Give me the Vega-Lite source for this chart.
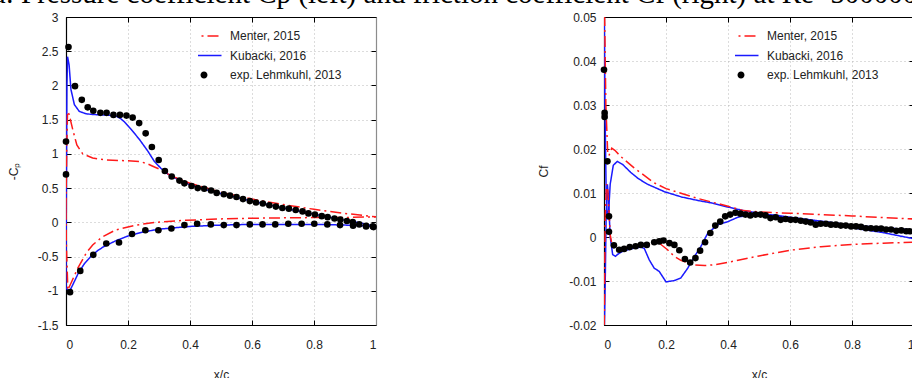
{
  "$schema": "https://vega.github.io/schema/vega-lite/v6.json",
  "padding": {"left": -8, "top": -21, "right": 0, "bottom": 0},
  "title": {
    "text": "a: Pressure coefficient Cp (left) and friction coefficient Cf (right) at Re=500000",
    "anchor": "start",
    "frame": "bounds",
    "font": "Liberation Serif",
    "fontSize": 29,
    "fontWeight": "normal",
    "color": "#000",
    "baseline": "alphabetic",
    "offset": -21,
    "dx": -14
  },
  "datasets": {
    "cp": [
      {"s": "Kubacki, 2016", "b": "u", "x": 0, "y": -0.95},
      {"s": "Kubacki, 2016", "b": "u", "x": 0.001, "y": 0.2},
      {"s": "Kubacki, 2016", "b": "u", "x": 0.002, "y": 1.2},
      {"s": "Kubacki, 2016", "b": "u", "x": 0.003, "y": 2.0},
      {"s": "Kubacki, 2016", "b": "u", "x": 0.005, "y": 2.42},
      {"s": "Kubacki, 2016", "b": "u", "x": 0.01, "y": 2.3},
      {"s": "Kubacki, 2016", "b": "u", "x": 0.016, "y": 1.94},
      {"s": "Kubacki, 2016", "b": "u", "x": 0.027, "y": 1.72},
      {"s": "Kubacki, 2016", "b": "u", "x": 0.043, "y": 1.62},
      {"s": "Kubacki, 2016", "b": "u", "x": 0.065, "y": 1.585},
      {"s": "Kubacki, 2016", "b": "u", "x": 0.09, "y": 1.575},
      {"s": "Kubacki, 2016", "b": "u", "x": 0.118, "y": 1.57},
      {"s": "Kubacki, 2016", "b": "u", "x": 0.14, "y": 1.565},
      {"s": "Kubacki, 2016", "b": "u", "x": 0.161, "y": 1.555},
      {"s": "Kubacki, 2016", "b": "u", "x": 0.175, "y": 1.52},
      {"s": "Kubacki, 2016", "b": "u", "x": 0.188, "y": 1.47},
      {"s": "Kubacki, 2016", "b": "u", "x": 0.21, "y": 1.36},
      {"s": "Kubacki, 2016", "b": "u", "x": 0.237, "y": 1.21},
      {"s": "Kubacki, 2016", "b": "u", "x": 0.264, "y": 1.04},
      {"s": "Kubacki, 2016", "b": "u", "x": 0.285, "y": 0.89},
      {"s": "Kubacki, 2016", "b": "u", "x": 0.306, "y": 0.79},
      {"s": "Kubacki, 2016", "b": "u", "x": 0.33, "y": 0.7},
      {"s": "Kubacki, 2016", "b": "u", "x": 0.35, "y": 0.65},
      {"s": "Kubacki, 2016", "b": "u", "x": 0.4, "y": 0.55},
      {"s": "Kubacki, 2016", "b": "u", "x": 0.45, "y": 0.48},
      {"s": "Kubacki, 2016", "b": "u", "x": 0.5, "y": 0.42},
      {"s": "Kubacki, 2016", "b": "u", "x": 0.6, "y": 0.31},
      {"s": "Kubacki, 2016", "b": "u", "x": 0.7, "y": 0.21},
      {"s": "Kubacki, 2016", "b": "u", "x": 0.8, "y": 0.12},
      {"s": "Kubacki, 2016", "b": "u", "x": 0.9, "y": 0.03},
      {"s": "Kubacki, 2016", "b": "u", "x": 0.95, "y": -0.01},
      {"s": "Kubacki, 2016", "b": "u", "x": 1.0, "y": -0.06},
      {"s": "Kubacki, 2016", "b": "l", "x": 0, "y": -0.95},
      {"s": "Kubacki, 2016", "b": "l", "x": 0.01, "y": -1.02},
      {"s": "Kubacki, 2016", "b": "l", "x": 0.02, "y": -0.93},
      {"s": "Kubacki, 2016", "b": "l", "x": 0.04, "y": -0.74},
      {"s": "Kubacki, 2016", "b": "l", "x": 0.06, "y": -0.6},
      {"s": "Kubacki, 2016", "b": "l", "x": 0.08, "y": -0.5},
      {"s": "Kubacki, 2016", "b": "l", "x": 0.1, "y": -0.42},
      {"s": "Kubacki, 2016", "b": "l", "x": 0.12, "y": -0.36},
      {"s": "Kubacki, 2016", "b": "l", "x": 0.16, "y": -0.27},
      {"s": "Kubacki, 2016", "b": "l", "x": 0.2, "y": -0.2},
      {"s": "Kubacki, 2016", "b": "l", "x": 0.25, "y": -0.14},
      {"s": "Kubacki, 2016", "b": "l", "x": 0.3, "y": -0.1},
      {"s": "Kubacki, 2016", "b": "l", "x": 0.35, "y": -0.08},
      {"s": "Kubacki, 2016", "b": "l", "x": 0.4, "y": -0.06},
      {"s": "Kubacki, 2016", "b": "l", "x": 0.5, "y": -0.04},
      {"s": "Kubacki, 2016", "b": "l", "x": 0.6, "y": -0.03},
      {"s": "Kubacki, 2016", "b": "l", "x": 0.7, "y": -0.03},
      {"s": "Kubacki, 2016", "b": "l", "x": 0.8, "y": -0.03},
      {"s": "Kubacki, 2016", "b": "l", "x": 0.9, "y": -0.04},
      {"s": "Kubacki, 2016", "b": "l", "x": 1.0, "y": -0.06},
      {"s": "Menter, 2015", "b": "u", "x": 0, "y": 0.2},
      {"s": "Menter, 2015", "b": "u", "x": 0.002, "y": 1.0},
      {"s": "Menter, 2015", "b": "u", "x": 0.005, "y": 1.62},
      {"s": "Menter, 2015", "b": "u", "x": 0.01, "y": 1.58},
      {"s": "Menter, 2015", "b": "u", "x": 0.022, "y": 1.35},
      {"s": "Menter, 2015", "b": "u", "x": 0.035, "y": 1.13},
      {"s": "Menter, 2015", "b": "u", "x": 0.054, "y": 1.0},
      {"s": "Menter, 2015", "b": "u", "x": 0.086, "y": 0.94},
      {"s": "Menter, 2015", "b": "u", "x": 0.129, "y": 0.91},
      {"s": "Menter, 2015", "b": "u", "x": 0.194, "y": 0.9},
      {"s": "Menter, 2015", "b": "u", "x": 0.237, "y": 0.89},
      {"s": "Menter, 2015", "b": "u", "x": 0.26, "y": 0.86},
      {"s": "Menter, 2015", "b": "u", "x": 0.28, "y": 0.82},
      {"s": "Menter, 2015", "b": "u", "x": 0.3, "y": 0.78},
      {"s": "Menter, 2015", "b": "u", "x": 0.323, "y": 0.72},
      {"s": "Menter, 2015", "b": "u", "x": 0.35, "y": 0.66},
      {"s": "Menter, 2015", "b": "u", "x": 0.4, "y": 0.57},
      {"s": "Menter, 2015", "b": "u", "x": 0.5, "y": 0.44},
      {"s": "Menter, 2015", "b": "u", "x": 0.6, "y": 0.34},
      {"s": "Menter, 2015", "b": "u", "x": 0.7, "y": 0.26},
      {"s": "Menter, 2015", "b": "u", "x": 0.8, "y": 0.19},
      {"s": "Menter, 2015", "b": "u", "x": 0.9, "y": 0.13},
      {"s": "Menter, 2015", "b": "u", "x": 1.0, "y": 0.08},
      {"s": "Menter, 2015", "b": "l", "x": 0, "y": 0.2},
      {"s": "Menter, 2015", "b": "l", "x": 0.001, "y": -0.3},
      {"s": "Menter, 2015", "b": "l", "x": 0.006, "y": -0.99},
      {"s": "Menter, 2015", "b": "l", "x": 0.02, "y": -0.85},
      {"s": "Menter, 2015", "b": "l", "x": 0.038, "y": -0.67},
      {"s": "Menter, 2015", "b": "l", "x": 0.065, "y": -0.45},
      {"s": "Menter, 2015", "b": "l", "x": 0.086, "y": -0.33},
      {"s": "Menter, 2015", "b": "l", "x": 0.118, "y": -0.21},
      {"s": "Menter, 2015", "b": "l", "x": 0.161, "y": -0.11},
      {"s": "Menter, 2015", "b": "l", "x": 0.226, "y": -0.04},
      {"s": "Menter, 2015", "b": "l", "x": 0.29, "y": 0.0},
      {"s": "Menter, 2015", "b": "l", "x": 0.387, "y": 0.03},
      {"s": "Menter, 2015", "b": "l", "x": 0.5, "y": 0.05},
      {"s": "Menter, 2015", "b": "l", "x": 0.6, "y": 0.06},
      {"s": "Menter, 2015", "b": "l", "x": 0.7, "y": 0.065},
      {"s": "Menter, 2015", "b": "l", "x": 0.8, "y": 0.07},
      {"s": "Menter, 2015", "b": "l", "x": 0.9, "y": 0.07},
      {"s": "Menter, 2015", "b": "l", "x": 1.0, "y": 0.08},
      {"s": "exp. Lehmkuhl, 2013", "b": "u", "x": 0, "y": 1.18},
      {"s": "exp. Lehmkuhl, 2013", "b": "u", "x": 0, "y": 0.7},
      {"s": "exp. Lehmkuhl, 2013", "b": "u", "x": 0.008, "y": 2.56},
      {"s": "exp. Lehmkuhl, 2013", "b": "u", "x": 0.029, "y": 1.99},
      {"s": "exp. Lehmkuhl, 2013", "b": "u", "x": 0.051, "y": 1.79},
      {"s": "exp. Lehmkuhl, 2013", "b": "u", "x": 0.07, "y": 1.68},
      {"s": "exp. Lehmkuhl, 2013", "b": "u", "x": 0.088, "y": 1.63},
      {"s": "exp. Lehmkuhl, 2013", "b": "u", "x": 0.111, "y": 1.6},
      {"s": "exp. Lehmkuhl, 2013", "b": "u", "x": 0.131, "y": 1.6},
      {"s": "exp. Lehmkuhl, 2013", "b": "u", "x": 0.153, "y": 1.57},
      {"s": "exp. Lehmkuhl, 2013", "b": "u", "x": 0.174, "y": 1.57},
      {"s": "exp. Lehmkuhl, 2013", "b": "u", "x": 0.195, "y": 1.56},
      {"s": "exp. Lehmkuhl, 2013", "b": "u", "x": 0.215, "y": 1.53},
      {"s": "exp. Lehmkuhl, 2013", "b": "u", "x": 0.236, "y": 1.45},
      {"s": "exp. Lehmkuhl, 2013", "b": "u", "x": 0.257, "y": 1.3},
      {"s": "exp. Lehmkuhl, 2013", "b": "u", "x": 0.277, "y": 1.1},
      {"s": "exp. Lehmkuhl, 2013", "b": "u", "x": 0.299, "y": 0.91},
      {"s": "exp. Lehmkuhl, 2013", "b": "u", "x": 0.319, "y": 0.75},
      {"s": "exp. Lehmkuhl, 2013", "b": "u", "x": 0.341, "y": 0.67},
      {"s": "exp. Lehmkuhl, 2013", "b": "u", "x": 0.366, "y": 0.61},
      {"s": "exp. Lehmkuhl, 2013", "b": "u", "x": 0.382, "y": 0.57},
      {"s": "exp. Lehmkuhl, 2013", "b": "u", "x": 0.405, "y": 0.53},
      {"s": "exp. Lehmkuhl, 2013", "b": "u", "x": 0.425, "y": 0.5},
      {"s": "exp. Lehmkuhl, 2013", "b": "u", "x": 0.446, "y": 0.49},
      {"s": "exp. Lehmkuhl, 2013", "b": "u", "x": 0.468, "y": 0.465},
      {"s": "exp. Lehmkuhl, 2013", "b": "u", "x": 0.486, "y": 0.43},
      {"s": "exp. Lehmkuhl, 2013", "b": "u", "x": 0.509, "y": 0.41},
      {"s": "exp. Lehmkuhl, 2013", "b": "u", "x": 0.529, "y": 0.39},
      {"s": "exp. Lehmkuhl, 2013", "b": "u", "x": 0.55, "y": 0.37},
      {"s": "exp. Lehmkuhl, 2013", "b": "u", "x": 0.571, "y": 0.34},
      {"s": "exp. Lehmkuhl, 2013", "b": "u", "x": 0.593, "y": 0.31},
      {"s": "exp. Lehmkuhl, 2013", "b": "u", "x": 0.613, "y": 0.29},
      {"s": "exp. Lehmkuhl, 2013", "b": "u", "x": 0.635, "y": 0.275},
      {"s": "exp. Lehmkuhl, 2013", "b": "u", "x": 0.656, "y": 0.25},
      {"s": "exp. Lehmkuhl, 2013", "b": "u", "x": 0.677, "y": 0.23},
      {"s": "exp. Lehmkuhl, 2013", "b": "u", "x": 0.698, "y": 0.21},
      {"s": "exp. Lehmkuhl, 2013", "b": "u", "x": 0.719, "y": 0.2},
      {"s": "exp. Lehmkuhl, 2013", "b": "u", "x": 0.741, "y": 0.18},
      {"s": "exp. Lehmkuhl, 2013", "b": "u", "x": 0.763, "y": 0.16},
      {"s": "exp. Lehmkuhl, 2013", "b": "u", "x": 0.782, "y": 0.13},
      {"s": "exp. Lehmkuhl, 2013", "b": "u", "x": 0.803, "y": 0.115},
      {"s": "exp. Lehmkuhl, 2013", "b": "u", "x": 0.825, "y": 0.09},
      {"s": "exp. Lehmkuhl, 2013", "b": "u", "x": 0.844, "y": 0.076},
      {"s": "exp. Lehmkuhl, 2013", "b": "u", "x": 0.866, "y": 0.056},
      {"s": "exp. Lehmkuhl, 2013", "b": "u", "x": 0.885, "y": 0.04},
      {"s": "exp. Lehmkuhl, 2013", "b": "u", "x": 0.906, "y": 0.02},
      {"s": "exp. Lehmkuhl, 2013", "b": "u", "x": 0.925, "y": 0.003},
      {"s": "exp. Lehmkuhl, 2013", "b": "u", "x": 0.946, "y": -0.03},
      {"s": "exp. Lehmkuhl, 2013", "b": "u", "x": 0.968, "y": -0.05},
      {"s": "exp. Lehmkuhl, 2013", "b": "u", "x": 0.99, "y": -0.06},
      {"s": "exp. Lehmkuhl, 2013", "b": "l", "x": 0.013, "y": -1.02},
      {"s": "exp. Lehmkuhl, 2013", "b": "l", "x": 0.046, "y": -0.71},
      {"s": "exp. Lehmkuhl, 2013", "b": "l", "x": 0.088, "y": -0.475},
      {"s": "exp. Lehmkuhl, 2013", "b": "l", "x": 0.13, "y": -0.31},
      {"s": "exp. Lehmkuhl, 2013", "b": "l", "x": 0.171, "y": -0.295},
      {"s": "exp. Lehmkuhl, 2013", "b": "l", "x": 0.213, "y": -0.17},
      {"s": "exp. Lehmkuhl, 2013", "b": "l", "x": 0.256, "y": -0.115},
      {"s": "exp. Lehmkuhl, 2013", "b": "l", "x": 0.298, "y": -0.115},
      {"s": "exp. Lehmkuhl, 2013", "b": "l", "x": 0.34, "y": -0.09},
      {"s": "exp. Lehmkuhl, 2013", "b": "l", "x": 0.382, "y": -0.04},
      {"s": "exp. Lehmkuhl, 2013", "b": "l", "x": 0.423, "y": -0.02},
      {"s": "exp. Lehmkuhl, 2013", "b": "l", "x": 0.467, "y": -0.03},
      {"s": "exp. Lehmkuhl, 2013", "b": "l", "x": 0.509, "y": -0.04},
      {"s": "exp. Lehmkuhl, 2013", "b": "l", "x": 0.55, "y": -0.04},
      {"s": "exp. Lehmkuhl, 2013", "b": "l", "x": 0.593, "y": -0.03},
      {"s": "exp. Lehmkuhl, 2013", "b": "l", "x": 0.634, "y": -0.03},
      {"s": "exp. Lehmkuhl, 2013", "b": "l", "x": 0.675, "y": -0.03},
      {"s": "exp. Lehmkuhl, 2013", "b": "l", "x": 0.717, "y": -0.02},
      {"s": "exp. Lehmkuhl, 2013", "b": "l", "x": 0.76, "y": -0.02},
      {"s": "exp. Lehmkuhl, 2013", "b": "l", "x": 0.801, "y": -0.02},
      {"s": "exp. Lehmkuhl, 2013", "b": "l", "x": 0.843, "y": -0.03},
      {"s": "exp. Lehmkuhl, 2013", "b": "l", "x": 0.884, "y": -0.04},
      {"s": "exp. Lehmkuhl, 2013", "b": "l", "x": 0.926, "y": -0.05},
      {"s": "exp. Lehmkuhl, 2013", "b": "l", "x": 0.968, "y": -0.06},
      {"s": "exp. Lehmkuhl, 2013", "b": "l", "x": 0.992, "y": -0.07}
    ],
    "cf": [
      {"s": "Kubacki, 2016", "b": "u", "x": 0, "y": 0.06},
      {"s": "Kubacki, 2016", "b": "u", "x": 0.003, "y": 0.03},
      {"s": "Kubacki, 2016", "b": "u", "x": 0.007, "y": 0.01},
      {"s": "Kubacki, 2016", "b": "u", "x": 0.011, "y": 0.004},
      {"s": "Kubacki, 2016", "b": "u", "x": 0.015, "y": 0.006},
      {"s": "Kubacki, 2016", "b": "u", "x": 0.02, "y": 0.012},
      {"s": "Kubacki, 2016", "b": "u", "x": 0.03, "y": 0.0163},
      {"s": "Kubacki, 2016", "b": "u", "x": 0.043, "y": 0.0172},
      {"s": "Kubacki, 2016", "b": "u", "x": 0.06, "y": 0.0165},
      {"s": "Kubacki, 2016", "b": "u", "x": 0.086, "y": 0.0147},
      {"s": "Kubacki, 2016", "b": "u", "x": 0.11, "y": 0.0133},
      {"s": "Kubacki, 2016", "b": "u", "x": 0.14, "y": 0.012},
      {"s": "Kubacki, 2016", "b": "u", "x": 0.195, "y": 0.0103},
      {"s": "Kubacki, 2016", "b": "u", "x": 0.25, "y": 0.0091},
      {"s": "Kubacki, 2016", "b": "u", "x": 0.303, "y": 0.0083},
      {"s": "Kubacki, 2016", "b": "u", "x": 0.35, "y": 0.0077},
      {"s": "Kubacki, 2016", "b": "u", "x": 0.4, "y": 0.0068},
      {"s": "Kubacki, 2016", "b": "u", "x": 0.45, "y": 0.006},
      {"s": "Kubacki, 2016", "b": "u", "x": 0.5, "y": 0.0054},
      {"s": "Kubacki, 2016", "b": "u", "x": 0.6, "y": 0.0043},
      {"s": "Kubacki, 2016", "b": "u", "x": 0.7, "y": 0.0032},
      {"s": "Kubacki, 2016", "b": "u", "x": 0.8, "y": 0.0021},
      {"s": "Kubacki, 2016", "b": "u", "x": 0.9, "y": 0.001},
      {"s": "Kubacki, 2016", "b": "u", "x": 1.0, "y": -0.0004},
      {"s": "Kubacki, 2016", "b": "l", "x": 0, "y": -0.025},
      {"s": "Kubacki, 2016", "b": "l", "x": 0.004, "y": -0.01},
      {"s": "Kubacki, 2016", "b": "l", "x": 0.007, "y": 0.005},
      {"s": "Kubacki, 2016", "b": "l", "x": 0.011, "y": 0.012},
      {"s": "Kubacki, 2016", "b": "l", "x": 0.015, "y": 0.008},
      {"s": "Kubacki, 2016", "b": "l", "x": 0.02, "y": 0.0},
      {"s": "Kubacki, 2016", "b": "l", "x": 0.028, "y": -0.004},
      {"s": "Kubacki, 2016", "b": "l", "x": 0.037, "y": -0.0044},
      {"s": "Kubacki, 2016", "b": "l", "x": 0.043, "y": -0.004},
      {"s": "Kubacki, 2016", "b": "l", "x": 0.059, "y": -0.0033},
      {"s": "Kubacki, 2016", "b": "l", "x": 0.086, "y": -0.0027},
      {"s": "Kubacki, 2016", "b": "l", "x": 0.119, "y": -0.0023},
      {"s": "Kubacki, 2016", "b": "l", "x": 0.13, "y": -0.0026},
      {"s": "Kubacki, 2016", "b": "l", "x": 0.146, "y": -0.0052},
      {"s": "Kubacki, 2016", "b": "l", "x": 0.162, "y": -0.0071},
      {"s": "Kubacki, 2016", "b": "l", "x": 0.178, "y": -0.0078},
      {"s": "Kubacki, 2016", "b": "l", "x": 0.2, "y": -0.0102},
      {"s": "Kubacki, 2016", "b": "l", "x": 0.227, "y": -0.0099},
      {"s": "Kubacki, 2016", "b": "l", "x": 0.248, "y": -0.0093},
      {"s": "Kubacki, 2016", "b": "l", "x": 0.27, "y": -0.0071},
      {"s": "Kubacki, 2016", "b": "l", "x": 0.292, "y": -0.0044},
      {"s": "Kubacki, 2016", "b": "l", "x": 0.313, "y": -0.0021},
      {"s": "Kubacki, 2016", "b": "l", "x": 0.335, "y": 0.0009},
      {"s": "Kubacki, 2016", "b": "l", "x": 0.368, "y": 0.0028},
      {"s": "Kubacki, 2016", "b": "l", "x": 0.4, "y": 0.0035},
      {"s": "Kubacki, 2016", "b": "l", "x": 0.432, "y": 0.0045},
      {"s": "Kubacki, 2016", "b": "l", "x": 0.476, "y": 0.0051},
      {"s": "Kubacki, 2016", "b": "l", "x": 0.55, "y": 0.005},
      {"s": "Kubacki, 2016", "b": "l", "x": 0.6, "y": 0.0045},
      {"s": "Kubacki, 2016", "b": "l", "x": 0.7, "y": 0.0036},
      {"s": "Kubacki, 2016", "b": "l", "x": 0.8, "y": 0.0027},
      {"s": "Kubacki, 2016", "b": "l", "x": 0.9, "y": 0.0021},
      {"s": "Kubacki, 2016", "b": "l", "x": 1.0, "y": 0.0016},
      {"s": "Menter, 2015", "b": "u", "x": 0, "y": 0.06},
      {"s": "Menter, 2015", "b": "u", "x": 0.006, "y": 0.03},
      {"s": "Menter, 2015", "b": "u", "x": 0.012, "y": 0.019},
      {"s": "Menter, 2015", "b": "u", "x": 0.016, "y": 0.0185},
      {"s": "Menter, 2015", "b": "u", "x": 0.025, "y": 0.0202},
      {"s": "Menter, 2015", "b": "u", "x": 0.035, "y": 0.0197},
      {"s": "Menter, 2015", "b": "u", "x": 0.054, "y": 0.0183},
      {"s": "Menter, 2015", "b": "u", "x": 0.097, "y": 0.0157},
      {"s": "Menter, 2015", "b": "u", "x": 0.162, "y": 0.0123},
      {"s": "Menter, 2015", "b": "u", "x": 0.2, "y": 0.011},
      {"s": "Menter, 2015", "b": "u", "x": 0.3, "y": 0.0088},
      {"s": "Menter, 2015", "b": "u", "x": 0.4, "y": 0.007},
      {"s": "Menter, 2015", "b": "u", "x": 0.45, "y": 0.006},
      {"s": "Menter, 2015", "b": "u", "x": 0.5, "y": 0.0057},
      {"s": "Menter, 2015", "b": "u", "x": 0.6, "y": 0.0054},
      {"s": "Menter, 2015", "b": "u", "x": 0.7, "y": 0.0051},
      {"s": "Menter, 2015", "b": "u", "x": 0.8, "y": 0.0048},
      {"s": "Menter, 2015", "b": "u", "x": 0.9, "y": 0.0044},
      {"s": "Menter, 2015", "b": "u", "x": 1.0, "y": 0.0041},
      {"s": "Menter, 2015", "b": "l", "x": 0, "y": -0.025},
      {"s": "Menter, 2015", "b": "l", "x": 0.002, "y": -0.01},
      {"s": "Menter, 2015", "b": "l", "x": 0.004, "y": 0.005},
      {"s": "Menter, 2015", "b": "l", "x": 0.008, "y": 0.012},
      {"s": "Menter, 2015", "b": "l", "x": 0.012, "y": 0.011},
      {"s": "Menter, 2015", "b": "l", "x": 0.016, "y": 0.006},
      {"s": "Menter, 2015", "b": "l", "x": 0.02, "y": 0.0005},
      {"s": "Menter, 2015", "b": "l", "x": 0.026, "y": -0.0018},
      {"s": "Menter, 2015", "b": "l", "x": 0.04, "y": -0.0024},
      {"s": "Menter, 2015", "b": "l", "x": 0.06, "y": -0.0025},
      {"s": "Menter, 2015", "b": "l", "x": 0.1, "y": -0.0021},
      {"s": "Menter, 2015", "b": "l", "x": 0.15, "y": -0.0016},
      {"s": "Menter, 2015", "b": "l", "x": 0.18, "y": -0.0015},
      {"s": "Menter, 2015", "b": "l", "x": 0.205, "y": -0.0029},
      {"s": "Menter, 2015", "b": "l", "x": 0.227, "y": -0.0044},
      {"s": "Menter, 2015", "b": "l", "x": 0.248, "y": -0.0053},
      {"s": "Menter, 2015", "b": "l", "x": 0.286, "y": -0.0063},
      {"s": "Menter, 2015", "b": "l", "x": 0.324, "y": -0.0065},
      {"s": "Menter, 2015", "b": "l", "x": 0.357, "y": -0.0063},
      {"s": "Menter, 2015", "b": "l", "x": 0.41, "y": -0.0056},
      {"s": "Menter, 2015", "b": "l", "x": 0.465, "y": -0.0048},
      {"s": "Menter, 2015", "b": "l", "x": 0.5, "y": -0.0043},
      {"s": "Menter, 2015", "b": "l", "x": 0.6, "y": -0.003},
      {"s": "Menter, 2015", "b": "l", "x": 0.7, "y": -0.0022},
      {"s": "Menter, 2015", "b": "l", "x": 0.8, "y": -0.0017},
      {"s": "Menter, 2015", "b": "l", "x": 0.9, "y": -0.0014},
      {"s": "Menter, 2015", "b": "l", "x": 1.0, "y": -0.0012},
      {"s": "exp. Lehmkuhl, 2013", "b": "e", "x": 0, "y": 0.038},
      {"s": "exp. Lehmkuhl, 2013", "b": "e", "x": 0.002, "y": 0.0282},
      {"s": "exp. Lehmkuhl, 2013", "b": "e", "x": 0.002, "y": 0.0273},
      {"s": "exp. Lehmkuhl, 2013", "b": "e", "x": 0.011, "y": 0.0172},
      {"s": "exp. Lehmkuhl, 2013", "b": "e", "x": 0.016, "y": 0.0047},
      {"s": "exp. Lehmkuhl, 2013", "b": "e", "x": 0.016, "y": 0.0012},
      {"s": "exp. Lehmkuhl, 2013", "b": "e", "x": 0.032, "y": -0.0019},
      {"s": "exp. Lehmkuhl, 2013", "b": "e", "x": 0.049, "y": -0.0029},
      {"s": "exp. Lehmkuhl, 2013", "b": "e", "x": 0.065, "y": -0.0027},
      {"s": "exp. Lehmkuhl, 2013", "b": "e", "x": 0.083, "y": -0.0023},
      {"s": "exp. Lehmkuhl, 2013", "b": "e", "x": 0.102, "y": -0.0021},
      {"s": "exp. Lehmkuhl, 2013", "b": "e", "x": 0.119, "y": -0.0018},
      {"s": "exp. Lehmkuhl, 2013", "b": "e", "x": 0.138, "y": -0.0018},
      {"s": "exp. Lehmkuhl, 2013", "b": "e", "x": 0.162, "y": -0.0012},
      {"s": "exp. Lehmkuhl, 2013", "b": "e", "x": 0.178, "y": -0.001},
      {"s": "exp. Lehmkuhl, 2013", "b": "e", "x": 0.192, "y": -0.0008},
      {"s": "exp. Lehmkuhl, 2013", "b": "e", "x": 0.211, "y": -0.0014},
      {"s": "exp. Lehmkuhl, 2013", "b": "e", "x": 0.227, "y": -0.0018},
      {"s": "exp. Lehmkuhl, 2013", "b": "e", "x": 0.243, "y": -0.003},
      {"s": "exp. Lehmkuhl, 2013", "b": "e", "x": 0.261, "y": -0.005},
      {"s": "exp. Lehmkuhl, 2013", "b": "e", "x": 0.278, "y": -0.0058},
      {"s": "exp. Lehmkuhl, 2013", "b": "e", "x": 0.295, "y": -0.0048},
      {"s": "exp. Lehmkuhl, 2013", "b": "e", "x": 0.31, "y": -0.0031},
      {"s": "exp. Lehmkuhl, 2013", "b": "e", "x": 0.326, "y": -0.0012},
      {"s": "exp. Lehmkuhl, 2013", "b": "e", "x": 0.343, "y": 0.0009},
      {"s": "exp. Lehmkuhl, 2013", "b": "e", "x": 0.359, "y": 0.0026},
      {"s": "exp. Lehmkuhl, 2013", "b": "e", "x": 0.375, "y": 0.0035},
      {"s": "exp. Lehmkuhl, 2013", "b": "e", "x": 0.391, "y": 0.0047},
      {"s": "exp. Lehmkuhl, 2013", "b": "e", "x": 0.407, "y": 0.0051},
      {"s": "exp. Lehmkuhl, 2013", "b": "e", "x": 0.424, "y": 0.0055},
      {"s": "exp. Lehmkuhl, 2013", "b": "e", "x": 0.44, "y": 0.0053},
      {"s": "exp. Lehmkuhl, 2013", "b": "e", "x": 0.456, "y": 0.0051},
      {"s": "exp. Lehmkuhl, 2013", "b": "e", "x": 0.472, "y": 0.0049},
      {"s": "exp. Lehmkuhl, 2013", "b": "e", "x": 0.489, "y": 0.0051},
      {"s": "exp. Lehmkuhl, 2013", "b": "e", "x": 0.505, "y": 0.0051},
      {"s": "exp. Lehmkuhl, 2013", "b": "e", "x": 0.521, "y": 0.0049},
      {"s": "exp. Lehmkuhl, 2013", "b": "e", "x": 0.537, "y": 0.0043},
      {"s": "exp. Lehmkuhl, 2013", "b": "e", "x": 0.554, "y": 0.0045},
      {"s": "exp. Lehmkuhl, 2013", "b": "e", "x": 0.57, "y": 0.0039},
      {"s": "exp. Lehmkuhl, 2013", "b": "e", "x": 0.586, "y": 0.0041},
      {"s": "exp. Lehmkuhl, 2013", "b": "e", "x": 0.602, "y": 0.0039},
      {"s": "exp. Lehmkuhl, 2013", "b": "e", "x": 0.618, "y": 0.0039},
      {"s": "exp. Lehmkuhl, 2013", "b": "e", "x": 0.635, "y": 0.0037},
      {"s": "exp. Lehmkuhl, 2013", "b": "e", "x": 0.651, "y": 0.0035},
      {"s": "exp. Lehmkuhl, 2013", "b": "e", "x": 0.667, "y": 0.0033},
      {"s": "exp. Lehmkuhl, 2013", "b": "e", "x": 0.683, "y": 0.0028},
      {"s": "exp. Lehmkuhl, 2013", "b": "e", "x": 0.699, "y": 0.003},
      {"s": "exp. Lehmkuhl, 2013", "b": "e", "x": 0.716, "y": 0.003},
      {"s": "exp. Lehmkuhl, 2013", "b": "e", "x": 0.732, "y": 0.0028},
      {"s": "exp. Lehmkuhl, 2013", "b": "e", "x": 0.748, "y": 0.0028},
      {"s": "exp. Lehmkuhl, 2013", "b": "e", "x": 0.764, "y": 0.0026},
      {"s": "exp. Lehmkuhl, 2013", "b": "e", "x": 0.78, "y": 0.0026},
      {"s": "exp. Lehmkuhl, 2013", "b": "e", "x": 0.797, "y": 0.0024},
      {"s": "exp. Lehmkuhl, 2013", "b": "e", "x": 0.813, "y": 0.0024},
      {"s": "exp. Lehmkuhl, 2013", "b": "e", "x": 0.829, "y": 0.0023},
      {"s": "exp. Lehmkuhl, 2013", "b": "e", "x": 0.845, "y": 0.002},
      {"s": "exp. Lehmkuhl, 2013", "b": "e", "x": 0.861, "y": 0.002},
      {"s": "exp. Lehmkuhl, 2013", "b": "e", "x": 0.878, "y": 0.0019},
      {"s": "exp. Lehmkuhl, 2013", "b": "e", "x": 0.894, "y": 0.0019},
      {"s": "exp. Lehmkuhl, 2013", "b": "e", "x": 0.91, "y": 0.0017},
      {"s": "exp. Lehmkuhl, 2013", "b": "e", "x": 0.926, "y": 0.0017},
      {"s": "exp. Lehmkuhl, 2013", "b": "e", "x": 0.943, "y": 0.0014},
      {"s": "exp. Lehmkuhl, 2013", "b": "e", "x": 0.959, "y": 0.0015},
      {"s": "exp. Lehmkuhl, 2013", "b": "e", "x": 0.975, "y": 0.0013},
      {"s": "exp. Lehmkuhl, 2013", "b": "e", "x": 0.986, "y": 0.0013}
    ]
  },
  "spacing": 228,
  "bounds": "flush",
  "resolve": {"legend": {"color": "independent"}},
  "hconcat": [
    {
      "width": 310,
      "height": 308,
      "data": {"name": "cp"},
      "resolve": {"axis": {"x": "independent", "y": "independent"}},
      "layer": [
        {
          "transform": [{"filter": "datum.s !== 'exp. Lehmkuhl, 2013'"}],
          "mark": {"type": "line", "clip": true, "strokeWidth": 1.5},
          "encoding": {
            "x": {"field": "x", "type": "quantitative", "scale": {"domain": [0, 1]},
                  "axis": {"values": [0, 0.2, 0.4, 0.6, 0.8, 1], "title": "x/c", "labelPadding": 19, "titlePadding": 19}},
            "y": {"field": "y", "type": "quantitative", "scale": {"domain": [-1.5, 3]},
                  "axis": {"values": [-1.5, -1, -0.5, 0, 0.5, 1, 1.5, 2, 2.5, 3], "title": "-Cₚ", "labelPadding": 13, "titlePadding": 17}},
            "color": {"field": "s", "type": "nominal",
                      "scale": {"domain": ["Menter, 2015", "Kubacki, 2016", "exp. Lehmkuhl, 2013"], "range": ["#ff1a1a", "#1a1aff", "#000000"]},
                      "legend": {
                        "orient": "none", "legendX": 132, "legendY": 12,
                        "symbolSize": 1225, "symbolType": "stroke", "labelOffset": 20,
                        "encode": {
                          "symbols": {
                            "update": {
                              "shape": {"signal": "datum.value === 'exp. Lehmkuhl, 2013' ? 'M-0.2,0A0.2,0.2,0,1,0,0.2,0A0.2,0.2,0,1,0,-0.2,0Z' : 'stroke'"},
                              "fill": {"signal": "datum.value === 'exp. Lehmkuhl, 2013' ? '#000' : 'transparent'"},
                              "strokeWidth": {"signal": "datum.value === 'exp. Lehmkuhl, 2013' ? 0 : 1.6"},
                              "strokeDash": {"signal": "datum.value === 'Menter, 2015' ? [11, 4, 2, 4] : [1, 0]"}
                            }
                          }
                        }
                      }},
            "strokeDash": {"field": "s", "type": "nominal",
                           "scale": {"domain": ["Menter, 2015", "Kubacki, 2016"], "range": [[11, 4, 2, 4], [1, 0]]},
                           "legend": null},
            "detail": {"field": "b"}
          }
        },
        {
          "transform": [{"filter": "datum.s === 'exp. Lehmkuhl, 2013'"}],
          "mark": {"type": "circle", "size": 44, "opacity": 1, "color": "#000"},
          "encoding": {
            "x": {"field": "x", "type": "quantitative",
                  "axis": {"orient": "top", "values": [0, 0.2, 0.4, 0.6, 0.8, 1], "labels": false, "title": null, "grid": false}},
            "y": {"field": "y", "type": "quantitative",
                  "axis": {"orient": "right", "values": [-1.5, -1, -0.5, 0, 0.5, 1, 1.5, 2, 2.5, 3], "labels": false, "title": null, "grid": false, "domainColor": "#8c8c8c"}}
          }
        }
      ]
    },
    {
      "width": 310,
      "height": 308,
      "data": {"name": "cf"},
      "resolve": {"axis": {"x": "independent", "y": "independent"}},
      "layer": [
        {
          "transform": [{"filter": "datum.s !== 'exp. Lehmkuhl, 2013'"}],
          "mark": {"type": "line", "clip": true, "strokeWidth": 1.5},
          "encoding": {
            "x": {"field": "x", "type": "quantitative", "scale": {"domain": [0, 1]},
                  "axis": {"values": [0, 0.2, 0.4, 0.6, 0.8, 1], "title": "x/c", "labelPadding": 19, "titlePadding": 19}},
            "y": {"field": "y", "type": "quantitative", "scale": {"domain": [-0.02, 0.05]},
                  "axis": {"values": [-0.02, -0.01, 0, 0.01, 0.02, 0.03, 0.04, 0.05], "title": "Cf", "labelPadding": 13, "titlePadding": 18}},
            "color": {"field": "s", "type": "nominal",
                      "scale": {"domain": ["Menter, 2015", "Kubacki, 2016", "exp. Lehmkuhl, 2013"], "range": ["#ff1a1a", "#1a1aff", "#000000"]},
                      "legend": {
                        "orient": "none", "legendX": 131, "legendY": 12,
                        "symbolSize": 1225, "symbolType": "stroke", "labelOffset": 20,
                        "encode": {
                          "symbols": {
                            "update": {
                              "shape": {"signal": "datum.value === 'exp. Lehmkuhl, 2013' ? 'M-0.2,0A0.2,0.2,0,1,0,0.2,0A0.2,0.2,0,1,0,-0.2,0Z' : 'stroke'"},
                              "fill": {"signal": "datum.value === 'exp. Lehmkuhl, 2013' ? '#000' : 'transparent'"},
                              "strokeWidth": {"signal": "datum.value === 'exp. Lehmkuhl, 2013' ? 0 : 1.6"},
                              "strokeDash": {"signal": "datum.value === 'Menter, 2015' ? [11, 4, 2, 4] : [1, 0]"}
                            }
                          }
                        }
                      }},
            "strokeDash": {"field": "s", "type": "nominal",
                           "scale": {"domain": ["Menter, 2015", "Kubacki, 2016"], "range": [[11, 4, 2, 4], [1, 0]]},
                           "legend": null},
            "detail": {"field": "b"}
          }
        },
        {
          "transform": [{"filter": "datum.s === 'exp. Lehmkuhl, 2013'"}],
          "mark": {"type": "circle", "size": 44, "opacity": 1, "color": "#000"},
          "encoding": {
            "x": {"field": "x", "type": "quantitative",
                  "axis": {"orient": "top", "values": [0, 0.2, 0.4, 0.6, 0.8, 1], "labels": false, "title": null, "grid": false}},
            "y": {"field": "y", "type": "quantitative",
                  "axis": {"orient": "right", "values": [-0.02, -0.01, 0, 0.01, 0.02, 0.03, 0.04, 0.05], "labels": false, "title": null, "grid": false, "domainColor": "#8c8c8c"}}
          }
        }
      ]
    }
  ],
  "config": {
    "font": "Liberation Sans",
    "view": {"stroke": "#000", "strokeWidth": 1},
    "axis": {
      "format": "~g",
      "labelExpr": "replace(datum.label, '−', '-')",
      "labelFont": "Liberation Sans",
      "labelFontSize": 12,
      "labelColor": "#222",
      "titleFont": "Liberation Sans",
      "titleFontSize": 12,
      "titleFontWeight": "normal",
      "titleColor": "#222",
      "domainColor": "#000",
      "domainWidth": 1.2,
      "tickColor": "#000",
      "tickSize": -5,
      "tickWidth": 1,
      "grid": true,
      "gridColor": "#b8b8b8",
      "gridDash": [1, 3],
      "gridWidth": 1
    },
    "legend": {
      "title": null,
      "labelFont": "Liberation Sans",
      "labelFontSize": 12,
      "labelColor": "#222",
      "symbolStrokeWidth": 1.6,
      "clipHeight": 14,
      "rowPadding": 5.5,
      "padding": 0
    }
  }
}
